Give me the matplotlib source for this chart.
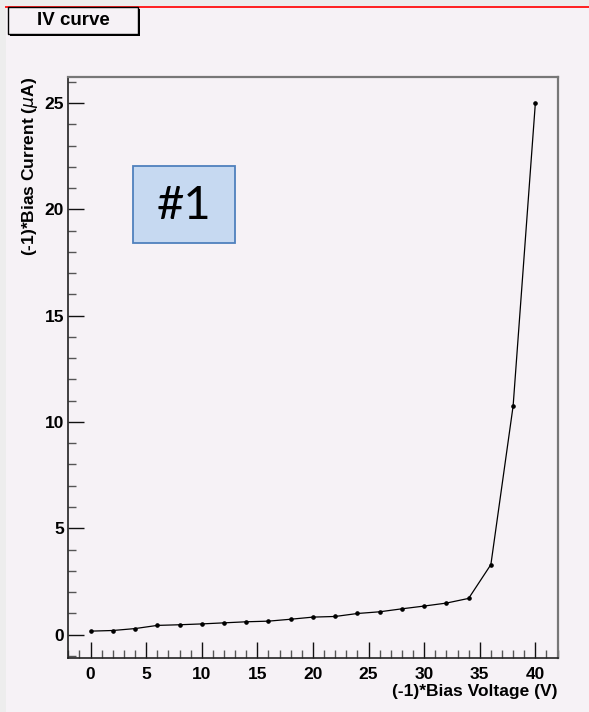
import matplotlib
matplotlib.use("Agg")
import matplotlib.pyplot as plt
from matplotlib.patches import Rectangle
from matplotlib.ticker import MultipleLocator

# IV scan: reverse bias voltage (V) and leakage current (uA)
voltage = [0, 2, 4, 6, 8, 10, 12, 14, 16, 18, 20,
           22, 24, 26, 28, 30, 32, 34, 36, 38, 40]
current = [0.16, 0.19, 0.28, 0.43, 0.46, 0.50, 0.55, 0.60, 0.63, 0.72, 0.82,
           0.85, 0.99, 1.07, 1.21, 1.34, 1.48, 1.70, 3.29, 10.75, 25.0]

x_ticks = [0, 5, 10, 15, 20, 25, 30, 35, 40]
y_ticks = [0, 5, 10, 15, 20, 25]

W, H = 589, 712
PAD = "#f6f2f6"

plt.rcParams["font.family"] = ["Liberation Sans", "DejaVu Sans"]

fig = plt.figure(figsize=(W / 100, H / 100), dpi=100)
fig.patch.set_facecolor("#ededed")


def px(x, y, w, h):
    # pixel box (top-left origin) -> figure fraction rectangle
    return (x / W, 1 - (y + h) / H, w / W, h / H)


# canvas pad and red top border
bx = px(6, 6, W - 6, H - 6)
fig.patches.append(Rectangle(bx[:2], bx[2], bx[3], transform=fig.transFigure,
                             facecolor=PAD, edgecolor="none", zorder=-5))
fig.add_artist(plt.Line2D([6 / W, 1], [1 - 6.5 / H, 1 - 6.5 / H],
                          transform=fig.transFigure, color="#ff2020", lw=1.4))

ax = fig.add_axes([68.3 / W, 1 - 657.5 / H, (557.6 - 68.3) / W, (657.5 - 76.7) / H])
ax.set_zorder(1)
ax.set_facecolor(PAD)

ax.plot(voltage, current, color="black", lw=0.9, marker="o", ms=2.3,
        markerfacecolor="black", markeredgecolor="black")

ax.set_xlim(-2, 42)
ax.set_ylim(-1.08, 26.24)
ax.set_xticks(x_ticks)
ax.set_yticks(y_ticks)
ax.xaxis.set_minor_locator(MultipleLocator(1))
ax.yaxis.set_minor_locator(MultipleLocator(1))
ax.tick_params(which="both", direction="in", top=False, right=False, width=1.0)
ax.tick_params(which="major", length=11.5, labelsize=12.5, color="#111111")
ax.tick_params(axis="x", which="major", pad=6.5)
ax.tick_params(axis="y", which="major", pad=3)
ax.tick_params(which="minor", length=5.8, color="#555555")
for lab in ax.get_xticklabels() + ax.get_yticklabels():
    lab.set_fontweight("bold")

for side in ["left", "bottom"]:
    ax.spines[side].set_color("#222222")
    ax.spines[side].set_linewidth(1.2)
for side in ["top", "right"]:
    ax.spines[side].set_color("#777777")
    ax.spines[side].set_linewidth(1.6)

ax.set_xlabel("(-1)*Bias Voltage (V)", fontsize=12.5, fontweight="bold",
              loc="right", labelpad=2)
ax.set_ylabel("(-1)*Bias Current ($\\mu$A)", fontsize=12.5, fontweight="bold",
              loc="top", labelpad=3)

# title box with drop shadow
sh = px(10.3, 9.3, 130, 26.7)
fig.patches.append(Rectangle(sh[:2], sh[2], sh[3], transform=fig.transFigure,
                             facecolor="black", edgecolor="none", zorder=3))
tb = px(8.3, 7.3, 130, 26.7)
fig.patches.append(Rectangle(tb[:2], tb[2], tb[3], transform=fig.transFigure,
                             facecolor=PAD, edgecolor="black", lw=1.0, zorder=4))
fig.text(73 / W, 1 - 20.5 / H, "IV curve", ha="center", va="center",
         fontsize=13.5, fontweight="bold", zorder=5)

# sample label
lb = px(133, 166, 102, 77)
fig.patches.append(Rectangle(lb[:2], lb[2], lb[3], transform=fig.transFigure,
                             facecolor="#c6d9f1", edgecolor="#4f81bd", lw=1.3, zorder=4))
fig.text(184 / W, 1 - 206 / H, "#1", ha="center", va="center",
         fontsize=34, family=["Lato", "DejaVu Sans"], zorder=5)

fig.savefig("out.png", dpi=100, facecolor=fig.get_facecolor())
